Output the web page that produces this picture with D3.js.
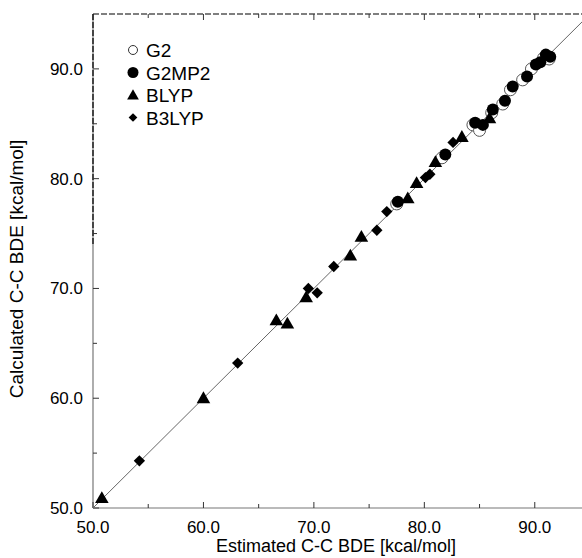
<!DOCTYPE html>
<html lang="en">
<head>
<meta charset="UTF-8">
<title>C-C BDE</title>
<style>
  body { margin: 0; background: #fff; }
  text { font-family: "Liberation Sans", Arial, sans-serif; fill: #000; }
</style>
</head>
<body>
<div id="chart"></div>
<script src="https://cdnjs.cloudflare.com/ajax/libs/d3/7.8.5/d3.min.js"></script>
<script>
// [estimated, calculated] pairs
var g2 = [[77.5, 77.7], [81.6, 81.9], [84.4, 84.9], [85.0, 84.4], [86.1, 86.0],
          [87.1, 86.8], [87.8, 88.1], [88.9, 89.0], [89.7, 90.0], [90.8, 91.0], [91.3, 90.9]];
var g2mp2 = [[77.6, 77.9], [81.9, 82.2], [84.6, 85.1], [85.3, 84.9], [86.2, 86.3],
             [87.3, 87.1], [88.0, 88.4], [89.3, 89.3], [90.1, 90.4], [90.5, 90.6],
             [91.0, 91.3], [91.4, 91.1]];
var blyp = [[50.8, 50.9], [60.0, 60.0], [66.6, 67.1], [67.6, 66.8], [69.3, 69.2],
            [73.3, 73.0], [74.3, 74.7], [78.5, 78.2], [79.3, 79.6], [81.0, 81.5],
            [83.4, 83.8], [85.9, 85.5]];
var b3lyp = [[54.2, 54.3], [63.1, 63.2], [69.5, 70.0], [70.3, 69.6], [71.8, 72.0],
             [75.7, 75.3], [76.6, 77.0], [80.1, 80.1], [80.5, 80.4], [82.6, 83.3]];
var majorTicks = [50, 60, 70, 80, 90];
var minorTicks = [55, 65, 75, 85];
var legendNames = ["G2", "G2MP2", "BLYP", "B3LYP"];

var width = 582, height = 558;
var svg = d3.select("#chart").append("svg")
    .attr("width", width).attr("height", height);

var x = d3.scaleLinear().domain([50, 95]).range([93, 590]);
var y = d3.scaleLinear().domain([50, 95]).range([508, 14]);

// frame
svg.append("line").attr("x1", 93).attr("x2", 93).attr("y1", y(95)).attr("y2", 508)
    .attr("stroke", "#777").attr("stroke-width", 1.2);
svg.append("line").attr("x1", 93).attr("x2", 93).attr("y1", y(95)).attr("y2", y(74))
    .attr("stroke", "#000").attr("stroke-width", 1.2).attr("stroke-dasharray", "6,2");
svg.append("line").attr("x1", 93).attr("x2", width).attr("y1", 508).attr("y2", 508)
    .attr("stroke", "#777").attr("stroke-width", 1.2);
svg.append("line").attr("x1", 93).attr("x2", width).attr("y1", y(95)).attr("y2", y(95))
    .attr("stroke", "#000").attr("stroke-width", 1.2).attr("stroke-dasharray", "6,2");

// inward ticks
function ticks(vals, len) {
  vals.forEach(function (v) {
    svg.append("line").attr("x1", x(v)).attr("x2", x(v)).attr("y1", 508).attr("y2", 508 - len)
        .attr("stroke", "#333");
    svg.append("line").attr("x1", x(v)).attr("x2", x(v)).attr("y1", y(95)).attr("y2", y(95) + len)
        .attr("stroke", "#333");
    svg.append("line").attr("x1", 93).attr("x2", 93 + len).attr("y1", y(v)).attr("y2", y(v))
        .attr("stroke", "#333");
  });
}
ticks(majorTicks, 6);
ticks(minorTicks, 4);

svg.selectAll(".xl").data(majorTicks).join("text")
    .attr("x", d => x(d)).attr("y", 533)
    .attr("text-anchor", "middle").attr("font-size", 17)
    .text(d => d.toFixed(1));
svg.selectAll(".yl").data(majorTicks).join("text")
    .attr("x", 83).attr("y", d => y(d) + 6)
    .attr("text-anchor", "end").attr("font-size", 17)
    .text(d => d.toFixed(1));

svg.append("text").attr("x", 336).attr("y", 552).attr("text-anchor", "middle")
    .attr("font-size", 18).text("Estimated C-C BDE [kcal/mol]");
svg.append("text").attr("transform", "translate(23,269) rotate(-90)")
    .attr("text-anchor", "middle").attr("font-size", 19)
    .text("Calculated C-C BDE [kcal/mol]");

// diagonal y = x
svg.append("line").attr("x1", x(50)).attr("y1", y(50)).attr("x2", x(95)).attr("y2", y(95))
    .attr("stroke", "#666").attr("stroke-width", 1);

var triangle = d3.symbol().type(d3.symbolTriangle).size(80);
var diamond = d3.symbol().type(d3.symbolSquare).size(64);

svg.selectAll(".g2").data(g2).join("circle")
    .attr("cx", d => x(d[0])).attr("cy", d => y(d[1])).attr("r", 6)
    .attr("fill", "#fff").attr("stroke", "#555").attr("stroke-width", 1);
svg.selectAll(".g2mp2").data(g2mp2).join("circle")
    .attr("cx", d => x(d[0])).attr("cy", d => y(d[1])).attr("r", 6)
    .attr("fill", "#000");
svg.selectAll(".blyp").data(blyp).join("path")
    .attr("d", triangle)
    .attr("transform", d => `translate(${x(d[0])},${y(d[1]) + 1})`)
    .attr("fill", "#000");
svg.selectAll(".b3lyp").data(b3lyp).join("path")
    .attr("d", diamond)
    .attr("transform", d => `translate(${x(d[0])},${y(d[1])}) rotate(45)`)
    .attr("fill", "#000");

// legend
var lg = svg.append("g");
legendNames.forEach(function (name, i) {
  var cy = 50 + i * 22.5, cx = 133;
  if (i === 0) lg.append("circle").attr("cx", cx).attr("cy", cy).attr("r", 4.5)
      .attr("fill", "#fff").attr("stroke", "#333");
  if (i === 1) lg.append("circle").attr("cx", cx).attr("cy", cy).attr("r", 5.5).attr("fill", "#000");
  if (i === 2) lg.append("path").attr("d", d3.symbol().type(d3.symbolTriangle).size(60))
      .attr("transform", `translate(${cx},${cy + 1})`).attr("fill", "#000");
  if (i === 3) lg.append("path").attr("d", d3.symbol().type(d3.symbolSquare).size(38))
      .attr("transform", `translate(${cx},${cy}) rotate(45)`).attr("fill", "#000");
  lg.append("text").attr("x", 146).attr("y", cy + 7).attr("font-size", 19).text(name);
});
</script>
</body>
</html>
